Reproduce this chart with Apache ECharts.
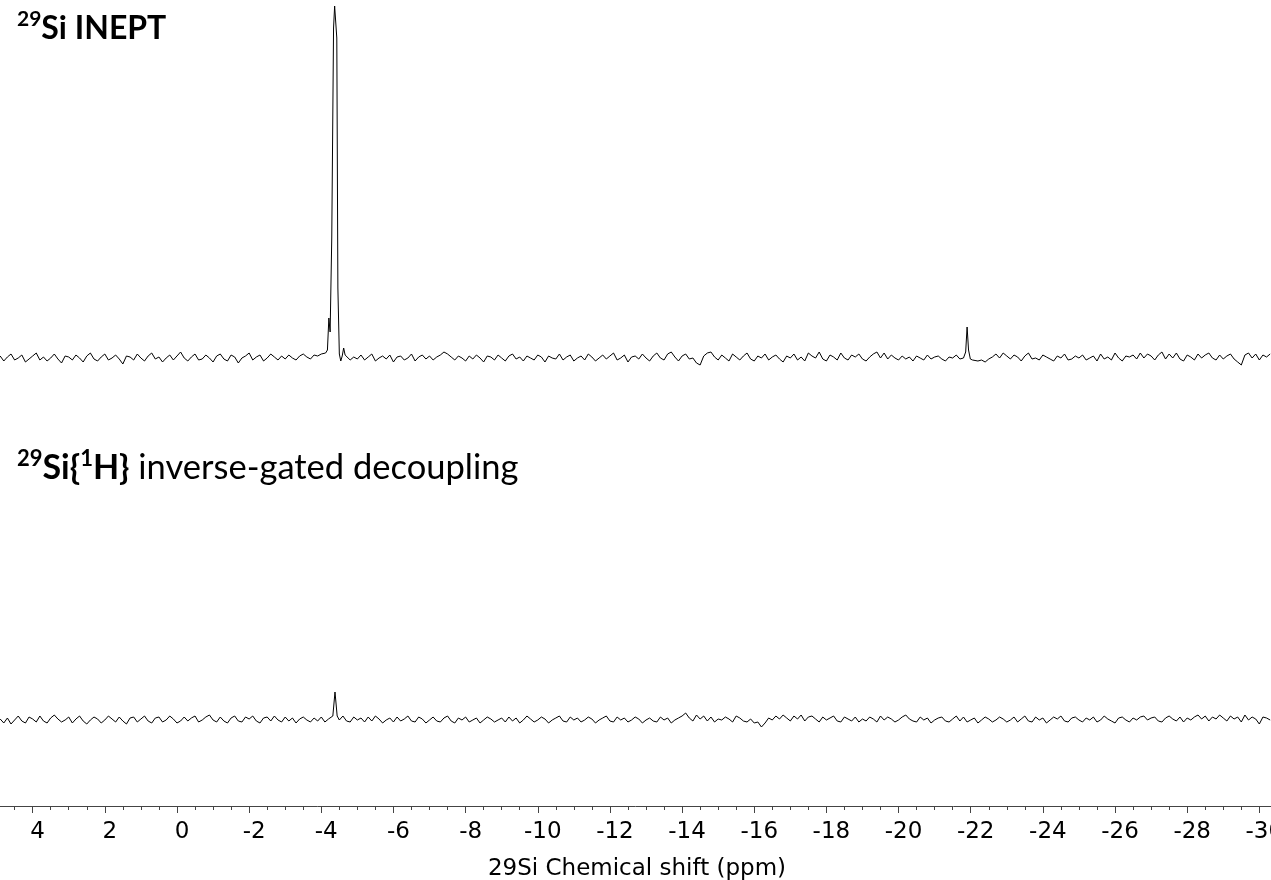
<!DOCTYPE html>
<html>
<head>
<meta charset="utf-8">
<script src="https://cdn.jsdelivr.net/npm/echarts@6/dist/echarts.min.js"></script>
<style>
html,body{margin:0;padding:0;background:#fff;}
#chart{width:1271px;height:880px;}
</style>
</head>
<body>
<div id="chart"></div>
<script>
// ---- Data (intensities in arbitrary units) ----
const ppmStart = 4.9;      // first sample (ppm)
const ppmStep = 0.1;       // sampling step of the baseline traces (ppm)

// 29Si INEPT – baseline trace, 4.9 … -30.3 ppm
const ineptNoise = [
  2, -3, 1, 4, -2, 0, 3, -4, -1, 2, 5, -2, 1, -3, 0, 4, -1, -5, 2, 1,
  -2, 3, 0, -4, 2, 5, -1, -3, 1, 4, -2, 0, 3, -1, -6, 2, 1, -2, 4, 0,
  -3, 2, 5, -1, 1, -4, 0, 3, -2, 2, 6, 0, -3, 1, 4, -2, -1, 3, 0, -4,
  2, 4, -1, -3, 3, 1, -5, 0, 2, 5, -2, 1, 3, -3, 0, 4, 1, -2, 2, -1,
  3, 0, -2, 2, 4, 1, -1, 3, 2, 4, 3, 5, 2, 1, 0, 5, 2, -2, 1, -1,
  3, -2, 1, 4, -3, 0, 2, -1, 3, -4, 1, 2, -2, 0, 4, -3, 1, 3, -1, 2,
  -2, 1, 3, 6, 4, 1, -2, 2, 0, -3, 2, -1, 3, 0, -4, 2, 1, -2, 3, 0,
  -3, 2, 4, -1, 1, -3, 2, 0, -2, 3, 1, -4, 2, 0, -1, 4, -2, 1, 3, -3,
  0, 2, -2, 4, 1, -3, 0, 3, -1, 2, 5, -2, 0, 3, -4, 1, 2, -1, 4, 0,
  -3, 2, 5, 0, -2, 4, 6, 1, -3, 2, 4, -1, 0, -5, -7, 2, 5, 6, 1, -2,
  3, 0, -3, 4, 1, -2, 2, 5, -1, -3, 2, 0, 4, -2, 1, 3, -1, -4, 2, 0,
  4, -2, 1, -3, 5, 2, 0, 6, -1, -3, 3, 1, -2, 5, 0, -2, 3, 1, 4, -1,
  -3, 1, 4, 6, 0, 5, -1, 3, 0, -2, 2, -1, 1, -3, 2, 0, -2, 3, -1, 1,
  2, -1, -3, 1, 0, 3, -1, 2, 0, 1, -2, -3, -2, -4, -1, 1, 4, 0, 5, 2,
  -1, 3, 1, -3, 2, 5, -1, 0, -2, 3, 1, -1, -3, 2, 0, 4, -2, -1, 2, 0,
  3, -2, 0, 2, -3, 4, -1, 1, -2, 5, 0, -3, 2, 1, 3, -1, 5, 0, 4, 2,
  -2, 3, 6, -1, 4, 0, 5, -1, -3, 3, 1, -2, 4, 0, 3, 5, 0, -2, 3, -1,
  2, 4, -1, -4, -7, 3, 5, 0, 4, -2, 3, 1, 4
];
// INEPT resonances [ppm, intensity]
const ineptPeakMain = [
  [-4.05, 2], [-4.12, 5], [-4.17, 8], [-4.21, 40], [-4.245, 26], [-4.29, 120],
  [-4.34, 330], [-4.37, 352], [-4.40, 352], [-4.43, 320], [-4.46, 70], [-4.50, 4],
  [-4.54, -3], [-4.58, 2], [-4.62, 10], [-4.66, 3]
];
const ineptPeakSmall = [
  [-21.80, 0], [-21.86, 6], [-21.90, 31], [-21.94, 8], [-21.99, -1], [-22.05, -2]
];

// 29Si{1H} inverse-gated decoupling – baseline trace, 4.9 … -30.3 ppm
const igNoise = [
  1, -3, 2, -4, 0, 4, -1, -3, 3, 1, -2, 4, -1, -3, 2, 5, 1, -2, 0, 3,
  -3, 1, 4, -1, -4, 0, 3, 1, -3, 0, 4, 1, -2, 3, -1, -4, 2, 3, -2, 1,
  4, -1, -3, 2, 3, -2, 0, 4, 1, -3, -1, 3, -1, 2, 4, -2, 0, 3, 5, 0,
  -2, 3, -1, -3, 2, 4, -1, -2, 3, 1, 4, -1, -3, 2, 3, -1, 4, 0, -2, 3,
  -1, 2, -3, 1, 3, 0, -2, 2, -1, 3, -2, 1, 0, 3, 1, 4, -1, -2, 3, 0,
  2, -2, 3, -1, 4, 1, -3, 0, 2, -2, 3, -1, 1, 4, -1, -2, 3, 1, -3, 0,
  3, -1, -2, 2, 4, -1, -3, 2, 0, 3, -2, 0, 2, -3, 0, 3, 1, -2, 0, 2,
  -2, 3, -1, 2, -3, 0, 4, 1, -2, 0, 3, 1, -3, 0, 2, 4, -1, -2, 3, 0,
  2, -2, 0, 3, 1, -3, 0, 2, 4, -1, -2, 3, 0, 2, -2, 0, 3, 1, -3, 0,
  2, -1, -2, 3, 0, 2, -3, 0, 2, 4, 7, 2, -1, 5, 1, 4, -1, 3, -2, 1,
  0, 3, 1, -2, 4, 2, -1, -2, 1, -3, -2, -7, -3, 2, 0, 4, 1, 5, 2, -1,
  4, 1, 5, -1, 3, 4, 1, -2, 3, 0, 2, 4, -1, -2, 3, 1, -1, 3, -2, 1,
  -1, 3, 1, -2, 4, 0, 3, 1, -2, 0, 3, 5, 1, -1, -2, 3, 0, 2, -3, 0,
  2, 3, -1, -2, 1, 4, -1, 3, -2, 0, 2, -3, 0, 3, 1, -2, 0, 3, 1, -2,
  0, 3, -2, 1, 4, -1, -2, 3, 0, 2, -3, 0, 3, 1, 4, -1, -2, 2, 3, 0,
  -2, 2, 0, 3, -2, 0, 4, 1, -1, -3, 2, 3, 0, -2, 2, 0, 3, 4, 0, 2,
  3, -1, -2, 2, 4, 1, -1, 3, -2, 2, 0, 3, 5, 1, 4, -1, 3, 1, 5, 2,
  -1, 4, 1, 3, -2, 5, 0, 3, 1, -4, 3, 2, 0
];
const igPeak = [
  [-4.25, 0], [-4.32, 4], [-4.36, 20], [-4.38, 28], [-4.40, 20], [-4.44, 4], [-4.50, 0]
];

// axis
const xAxisMin = -32, xAxisMax = 6, xTickStep = 2;
const xAxisName = '29Si Chemical shift (ppm)';

// ---- build traces: baseline samples + resonance points ----
function buildTrace(noise, peaks) {
  const ranges = peaks.map(p => [Math.min(...p.map(d => d[0])), Math.max(...p.map(d => d[0]))]);
  const pts = [];
  noise.forEach((v, i) => {
    const ppm = +(ppmStart - i * ppmStep).toFixed(3);
    if (!ranges.some(r => ppm >= r[0] && ppm <= r[1])) pts.push([ppm, v]);
  });
  peaks.forEach(p => p.forEach(d => pts.push(d)));
  pts.sort((a, b) => b[0] - a[0]);
  return pts;
}
const ineptData = buildTrace(ineptNoise, [ineptPeakMain, ineptPeakSmall]);
const igData = buildTrace(igNoise, [igPeak]);

const chart = echarts.init(document.getElementById('chart'), null, {renderer: 'canvas'});
const gridLeft = -39.5, gridWidth = 1371;
const xCommon = {
  type: 'value', inverse: true, min: xAxisMin, max: xAxisMax, interval: xTickStep,
  splitLine: {show: false}
};
chart.setOption({
  animation: false,
  backgroundColor: '#ffffff',
  grid: [
    {left: gridLeft, width: gridWidth, top: 0, height: 400, outerBoundsMode: 'none', containLabel: false},
    {left: gridLeft, width: gridWidth, top: 400, height: 406, outerBoundsMode: 'none', containLabel: false}
  ],
  xAxis: [
    Object.assign({}, xCommon, {gridIndex: 0, show: false}),
    Object.assign({}, xCommon, {
      gridIndex: 1,
      axisLine: {show: true, onZero: false, lineStyle: {color: '#444', width: 1}},
      axisTick: {show: true, inside: false, length: 7, lineStyle: {color: '#444'}},
      minorTick: {show: true, splitNumber: 4, length: 4, lineStyle: {color: '#444'}},
      axisLabel: {
        show: true, margin: 15, color: '#000', padding: [0, 0, 0, 10],
        fontFamily: 'DejaVu Sans', fontSize: 23
      },
      name: xAxisName, nameLocation: 'middle', nameGap: 52,
      nameTextStyle: {color: '#000', fontFamily: 'DejaVu Sans', fontSize: 23, padding: [0, 18, 0, 0]}
    })
  ],
  yAxis: [
    {gridIndex: 0, type: 'value', min: -42, max: 358, show: false, splitLine: {show: false}},
    {gridIndex: 1, type: 'value', min: -86, max: 320, show: false, splitLine: {show: false}}
  ],
  series: [
    {type: 'line', xAxisIndex: 0, yAxisIndex: 0, data: ineptData, showSymbol: false,
     lineStyle: {color: '#000', width: 1}, silent: true},
    {type: 'line', xAxisIndex: 1, yAxisIndex: 1, data: igData, showSymbol: false,
     lineStyle: {color: '#000', width: 1}, silent: true}
  ],
  graphic: [
    {type: 'text', left: 17, top: 9, style: {
      text: '{sup|29}{b|Si INEPT}',
      rich: {
        sup: {fontFamily: 'Lato', fontWeight: 'bold', fontSize: 21, verticalAlign: 'top', lineHeight: 24, fill: '#000'},
        b: {fontFamily: 'Lato', fontWeight: 'bold', fontSize: 32, lineHeight: 40, fill: '#000'}
      }
    }},
    {type: 'text', left: 17, top: 448, style: {
      text: '{sup|29}{b|Si\{}{sup|1}{b|H}}{r| inverse-gated decoupling}',
      fontFamily: 'Lato', fontWeight: 'bold', fontSize: 34, fill: '#000',
      rich: {
        sup: {fontFamily: 'Lato', fontWeight: 'bold', fontSize: 22, verticalAlign: 'top', lineHeight: 24, fill: '#000'},
        b: {fontFamily: 'Lato', fontWeight: 'bold', fontSize: 34, lineHeight: 40, fill: '#000'},
        r: {fontFamily: 'Lato', fontSize: 34.5, lineHeight: 40, fill: '#000'}
      }
    }}
  ]
});
</script>
</body>
</html>
